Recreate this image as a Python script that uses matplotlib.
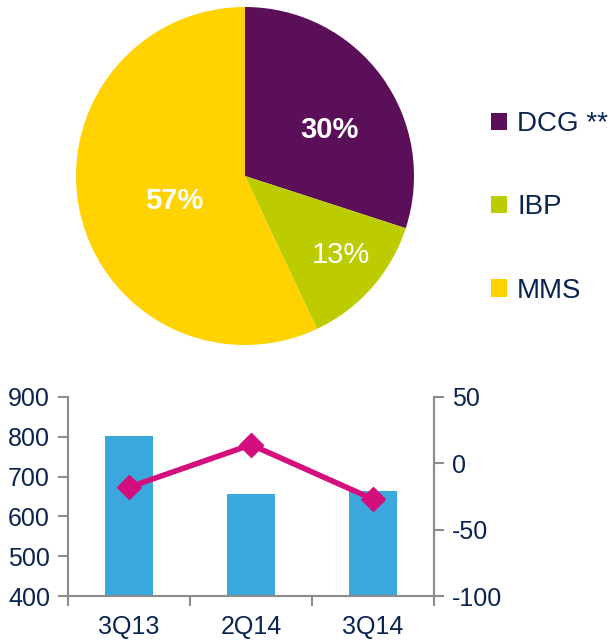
import matplotlib.pyplot as plt
from matplotlib.ticker import FixedLocator

plt.rcParams['font.family'] = ['Liberation Sans', 'DejaVu Sans']
plt.rcParams['axes.unicode_minus'] = False

segments = ['DCG **', 'IBP', 'MMS']
shares = [30, 13, 57]
seg_colors = ['#5a0f58', '#bccc00', '#ffd200']

quarters = ['3Q13', '2Q14', '3Q14']
bar_values = [801, 657, 663]
line_values = [-18, 14, -27]

navy = '#0b2350'
grey = '#8c8c8c'

fig = plt.figure(figsize=(6.16, 6.4), dpi=100)

# pie
ax_pie = fig.add_axes([76 / 616, 295 / 640, 338 / 616, 338 / 640])
wedges, _ = ax_pie.pie(shares, colors=seg_colors, startangle=90, counterclock=False)
ax_pie.set_aspect('equal')
ax_pie.set_xlim(-1, 1)
ax_pie.set_ylim(-1, 1)

# label spots (fraction of radius), as placed in the original slide
label_xy = [(0.50, 0.27), (0.57, -0.47), (-0.42, -0.15)]
label_weight = ['bold', 'normal', 'bold']
for share, (lx, ly), w in zip(shares, label_xy, label_weight):
    ax_pie.text(lx, ly, f'{share}%', color='white', fontsize=21, fontweight=w,
                ha='center', va='center')

fig.legend(wedges, segments, loc='center left', bbox_to_anchor=(491 / 616, 1 - 207.5 / 640),
           frameon=False, fontsize=20, handlelength=0.58, handleheight=0.58,
           handletextpad=0.36, labelspacing=2.06, borderpad=0, borderaxespad=0,
           labelcolor=navy)

# bars + line
ax = fig.add_axes([68 / 616, 44 / 640, 366 / 616, 199 / 640])
x = list(range(len(quarters)))
ax.bar(x, bar_values, width=0.4, color='#3aa8dc', zorder=2)
ax.set_ylim(400, 900)
ax.set_xlim(-0.5, 2.5)
ax.set_yticks(range(400, 901, 100))
ax.set_xticks(x)
ax.set_xticklabels(quarters)
ax.xaxis.set_minor_locator(FixedLocator([-0.5, 0.5, 1.5, 2.5]))
ax.tick_params(axis='x', which='major', length=0, pad=14, labelsize=18, labelcolor=navy)
ax.tick_params(axis='x', which='minor', length=7, width=1.5, color=grey)
ax.tick_params(axis='y', length=7, width=1.5, color=grey, labelsize=18, labelcolor=navy, pad=6)
ax.spines['top'].set_visible(False)
for s in ['left', 'bottom', 'right']:
    ax.spines[s].set_color(grey)
    ax.spines[s].set_linewidth(1.5)

ax2 = ax.twinx()
ax2.plot(x, line_values, color='#d40f7d', linewidth=4, marker='D', markersize=12, zorder=3)
ax2.set_ylim(-100, 50)
ax2.set_yticks([-100, -50, 0, 50])
ax2.tick_params(axis='y', length=7, width=1.5, color=grey, labelsize=18, labelcolor=navy, pad=6)
ax2.spines['top'].set_visible(False)
for s in ['left', 'bottom', 'right']:
    ax2.spines[s].set_color(grey)
    ax2.spines[s].set_linewidth(1.5)

fig.savefig('out.png', dpi=100)
